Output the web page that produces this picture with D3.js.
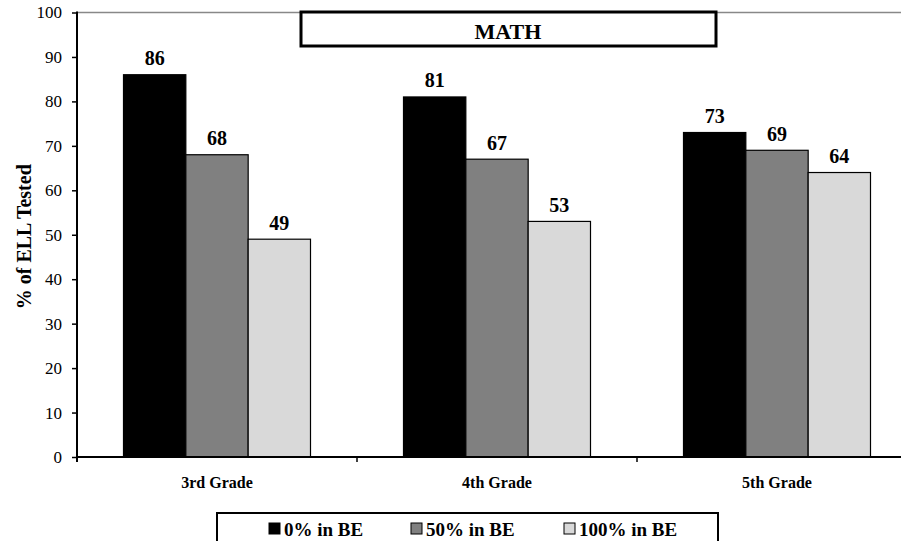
<!DOCTYPE html>
<html>
<head>
<meta charset="utf-8">
<script src="https://cdn.jsdelivr.net/npm/d3@7"></script>
<style>
  html, body { margin: 0; padding: 0; background: #fff; }
  svg { display: block; font-family: "Liberation Serif", "Times New Roman", serif; }
</style>
</head>
<body>
<svg id="chart" width="901" height="541"></svg>
<script>
// Percentage of ELL students tested in math, by grade and share of bilingual education
const grades = ["3rd Grade", "4th Grade", "5th Grade"];
const seriesNames = ["0% in BE", "50% in BE", "100% in BE"];
const seriesColors = ["#000000", "#808080", "#d9d9d9"];
const be0 = [86, 81, 73];
const be50 = [68, 67, 69];
const be100 = [49, 53, 64];
const yTicks = [0, 10, 20, 30, 40, 50, 60, 70, 80, 90, 100];

(function () {
const serif = "Liberation Serif, serif";
const values = [be0, be50, be100];
const rows = grades.map((g, i) => ({ grade: g, vals: values.map(s => s[i]) }));

const svg = d3.select("#chart");
const plotLeft = 77, plotTop = 12.5, plotBottom = 457, bandW = 280;
const plotRight = plotLeft + bandW * grades.length;

const x = d3.scaleBand().domain(grades).range([plotLeft, plotRight]).paddingInner(0).paddingOuter(0);
const xInner = d3.scaleBand().domain(seriesNames).range([46.5, bandW - 46.5]);
const y = d3.scaleLinear().domain([0, 100]).range([plotBottom, plotTop]);

// top frame line
svg.append("line")
  .attr("x1", plotLeft).attr("x2", 901).attr("y1", y(100)).attr("y2", y(100))
  .attr("stroke", "#888").attr("stroke-width", 1.5);

// bars
const groups = svg.selectAll("g.grade").data(rows).enter().append("g")
  .attr("class", "grade")
  .attr("transform", d => `translate(${x(d.grade)},0)`);

groups.selectAll("rect").data(d => d.vals.map((v, k) => ({ v, k })))
  .enter().append("rect")
  .attr("x", d => xInner(seriesNames[d.k]))
  .attr("width", xInner.bandwidth())
  .attr("y", d => y(d.v))
  .attr("height", d => y(0) - y(d.v))
  .attr("fill", d => seriesColors[d.k])
  .attr("stroke", "#000").attr("stroke-width", 1.2);

groups.selectAll("text.val").data(d => d.vals.map((v, k) => ({ v, k })))
  .enter().append("text")
  .attr("class", "val")
  .attr("x", d => xInner(seriesNames[d.k]) + xInner.bandwidth() / 2)
  .attr("y", d => y(d.v) - 9.5)
  .attr("text-anchor", "middle")
  .attr("font-size", 20).attr("font-weight", "bold")
  .text(d => d.v);

// y axis
const yAxis = svg.append("g").attr("transform", `translate(${plotLeft},0)`)
  .call(d3.axisLeft(y).tickValues(yTicks).tickSize(5).tickPadding(10));
yAxis.select(".domain").attr("stroke", "#000").attr("stroke-width", 2)
  .attr("d", `M0,${y(100) - 1}V${y(0) + 5}`);
yAxis.selectAll(".tick line").attr("stroke", "#000").attr("stroke-width", 1.5);
yAxis.selectAll(".tick text").attr("font-size", 17).attr("fill", "#000")
  .attr("font-family", serif);

// x axis
const xAxis = svg.append("g").attr("transform", `translate(0,${plotBottom})`)
  .call(d3.axisBottom(x).tickSize(0).tickPadding(0));
xAxis.select(".domain").remove();
xAxis.append("line").attr("x1", plotLeft).attr("x2", 901).attr("y1", 0).attr("y2", 0)
  .attr("stroke", "#000").attr("stroke-width", 2);
xAxis.selectAll(".tick text").attr("y", 31).attr("dy", 0)
  .attr("font-size", 16).attr("font-weight", "bold").attr("fill", "#000")
  .attr("font-family", serif);
xAxis.selectAll("line.sep").data(grades.slice(1)).enter().append("line")
  .attr("class", "sep")
  .attr("x1", d => x(d)).attr("x2", d => x(d)).attr("y1", 0).attr("y2", 5)
  .attr("stroke", "#000").attr("stroke-width", 1.5);

// y axis title
svg.append("text")
  .attr("transform", `translate(31,${(y(100) + y(0)) / 2 + 2}) rotate(-90)`)
  .attr("text-anchor", "middle")
  .attr("font-size", 20).attr("font-weight", "bold")
  .text("% of ELL Tested");

// title box
svg.append("rect").attr("x", 301).attr("y", 12).attr("width", 415).attr("height", 34)
  .attr("fill", "#fff").attr("stroke", "#000").attr("stroke-width", 3);
svg.append("text").attr("x", 508).attr("y", 38.5).attr("text-anchor", "middle")
  .attr("font-size", 22).attr("font-weight", "bold").text("MATH");

// legend
const legend = svg.append("g");
legend.append("rect").attr("x", 217).attr("y", 513).attr("width", 501).attr("height", 40)
  .attr("fill", "#fff").attr("stroke", "#000").attr("stroke-width", 2);
const legendX = [269, 411, 564];
const items = legend.selectAll("g.item").data(seriesNames).enter().append("g")
  .attr("class", "item")
  .attr("transform", (d, i) => `translate(${legendX[i]},0)`);
items.append("rect").attr("x", 0).attr("y", 523).attr("width", 11).attr("height", 11)
  .attr("fill", (d, i) => seriesColors[i]).attr("stroke", "#000").attr("stroke-width", 1);
items.append("text").attr("x", 15).attr("y", 536)
  .attr("font-size", 19).attr("font-weight", "bold").text(d => d);
})();
</script>
</body>
</html>
